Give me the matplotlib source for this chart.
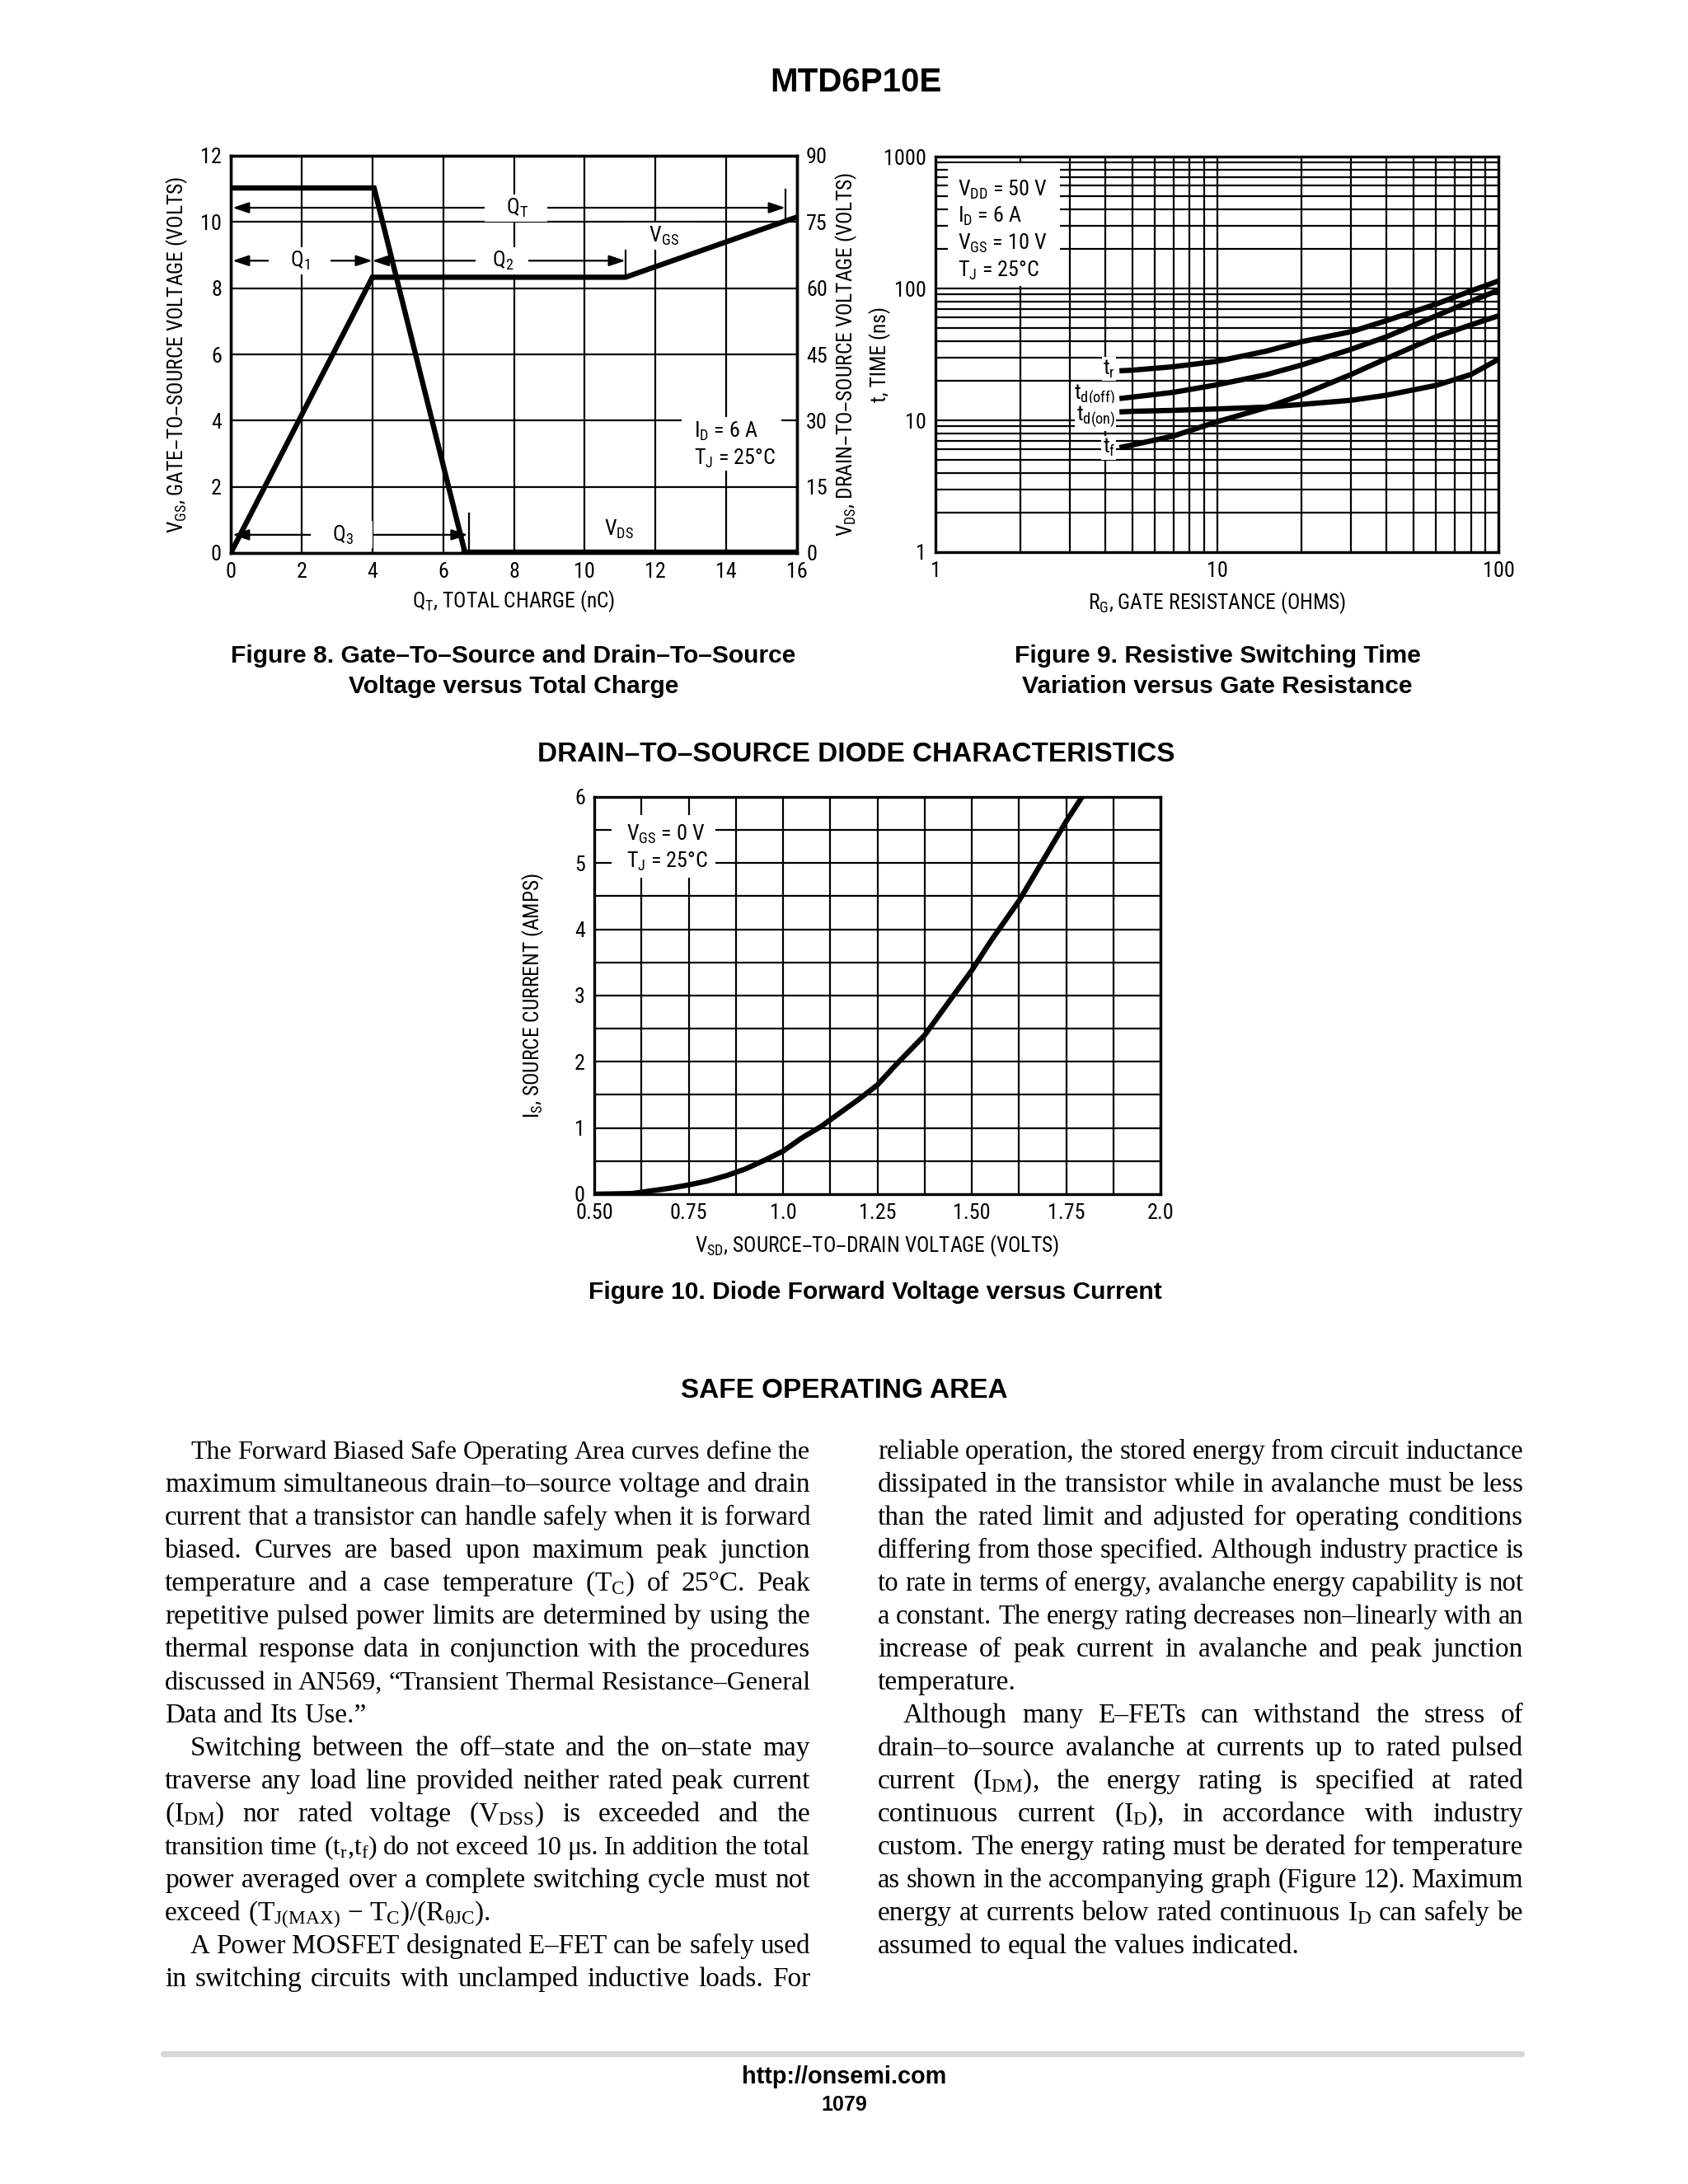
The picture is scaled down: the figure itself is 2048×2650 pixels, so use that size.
import matplotlib
matplotlib.use('Agg')
import matplotlib.pyplot as plt
from matplotlib import font_manager
from matplotlib.patches import Rectangle
from matplotlib.lines import Line2D
from matplotlib.ticker import NullFormatter, MultipleLocator

W, H, DPI = 2048, 2650, 200

# ---- Figure 8: gate charge ----
qt_vgs = [0, 4.0, 11.15, 16]
vgs = [0, 8.33, 8.33, 10.15]
qt_vds = [0, 4.05, 6.62, 16]
vds = [82.7, 82.7, 0, 0]

# ---- Figure 9: switching times vs gate resistance ----
rg = [4.6, 5, 7, 10, 15, 20, 30, 40, 60, 80, 100]
t_r = [23.8, 24.0, 25.5, 28.0, 33.5, 39.5, 47.0, 57.0, 76.0, 96.0, 114.0]
t_doff = [14.7, 15.0, 16.3, 18.6, 22.2, 26.3, 34.6, 43.0, 62.0, 80.0, 97.0]
t_don = [11.6, 11.7, 11.9, 12.2, 12.6, 13.2, 14.2, 15.5, 18.4, 22.3, 29.0]
t_f = [6.27, 6.5, 7.6, 9.75, 12.5, 15.6, 22.3, 29.4, 43.0, 53.0, 62.0]

# ---- Figure 10: diode forward characteristic ----
vsd = [0.50, 0.60, 0.65, 0.70, 0.75, 0.80, 0.85, 0.90, 0.95, 1.00, 1.05, 1.10,
       1.20, 1.25, 1.30, 1.375, 1.45, 1.50, 1.55, 1.625, 1.70, 1.75, 1.79]
i_s = [0.0, 0.01, 0.05, 0.09, 0.14, 0.20, 0.28, 0.38, 0.51, 0.65, 0.85, 1.02,
       1.43, 1.65, 1.96, 2.40, 2.99, 3.38, 3.82, 4.43, 5.15, 5.63, 5.98]

# ---- body text ----
LEFT_LINES = [
    ("The Forward Biased Safe Operating Area curves define the", 'i'),
    ("maximum simultaneous drain–to–source voltage and drain", 'j'),
    ("current that a transistor can handle safely when it is forward", 'j'),
    ("biased. Curves are based upon maximum peak junction", 'j'),
    ("temperature and a case temperature (T$_C$) of 25°C. Peak", 'j'),
    ("repetitive pulsed power limits are determined by using the", 'j'),
    ("thermal response data in conjunction with the procedures", 'j'),
    ("discussed in AN569, “Transient Thermal Resistance–General", 'j'),
    ("Data and Its Use.”", 'l'),
    ("Switching between the off–state and the on–state may", 'i'),
    ("traverse any load line provided neither rated peak current", 'j'),
    ("(I$_{DM}$) nor rated voltage (V$_{DSS}$) is exceeded and the", 'j'),
    ("transition time (t$_r$,t$_f$) do not exceed 10 μs. In addition the total", 'j'),
    ("power averaged over a complete switching cycle must not", 'j'),
    (r"exceed (T$_{J(MAX)}$ − T$_C$)/(R$_{{\theta}JC}$).", 'l'),
    ("A Power MOSFET designated E–FET can be safely used", 'i'),
    ("in switching circuits with unclamped inductive loads. For", 'j'),
]
RIGHT_LINES = [
    ("reliable operation, the stored energy from circuit inductance", 'j'),
    ("dissipated in the transistor while in avalanche must be less", 'j'),
    ("than the rated limit and adjusted for operating conditions", 'j'),
    ("differing from those specified. Although industry practice is", 'j'),
    ("to rate in terms of energy, avalanche energy capability is not", 'j'),
    ("a constant. The energy rating decreases non–linearly with an", 'j'),
    ("increase of peak current in avalanche and peak junction", 'j'),
    ("temperature.", 'l'),
    ("Although many E–FETs can withstand the stress of", 'i'),
    ("drain–to–source avalanche at currents up to rated pulsed", 'j'),
    ("current (I$_{DM}$), the energy rating is specified at rated", 'j'),
    ("continuous current (I$_D$), in accordance with industry", 'j'),
    ("custom. The energy rating must be derated for temperature", 'j'),
    ("as shown in the accompanying graph (Figure 12). Maximum", 'j'),
    ("energy at currents below rated continuous I$_D$ can safely be", 'j'),
    ("assumed to equal the values indicated.", 'l'),
]

avail = {f.name for f in font_manager.fontManager.ttflist}
CHART_FONT = 'Liberation Sans'
for cand in ('Liberation Sans Narrow', 'Roboto Condensed', 'Open Sans Condensed'):
    if cand in avail:
        CHART_FONT = cand
        break
NARROW = CHART_FONT != 'Liberation Sans'
TICK_FS = 9.4 if NARROW else 8.8      # tick labels
ANN_FS = 9.4 if NARROW else 8.4       # in-plot notes
LAB_FS = 9.2 if NARROW else 8.0       # axis titles
SERIF = 'Liberation Serif'
SANS = 'Liberation Sans'
BODY_FS = 12.0

plt.rcParams['font.family'] = [CHART_FONT, 'DejaVu Sans']
plt.rcParams['mathtext.default'] = 'regular'

fig = plt.figure(figsize=(W / DPI, H / DPI), dpi=DPI)
fig.patch.set_facecolor('white')


def rect(l, t, r, b):
    return [l / W, 1 - b / H, (r - l) / W, (b - t) / H]


def fx(px):
    return px / W


def fy(py):
    return 1 - py / H


def style(ax):
    for s in ax.spines.values():
        s.set_linewidth(1.2)
        s.set_color('k')
    ax.tick_params(which='both', length=0, labelsize=TICK_FS, pad=4)
    ax.set_axisbelow(True)


def blank(ax, x0, y0, x1, y1):
    # white patch that breaks the grid behind a note
    ax.add_patch(Rectangle((x0, y0), x1 - x0, y1 - y0, facecolor='white',
                           edgecolor='none', zorder=1))


WHITE = dict(facecolor='white', edgecolor='none', pad=1.0)
ARROW = dict(arrowstyle='<|-|>, head_length=0.6, head_width=0.2', color='k',
             lw=0.8, shrinkA=0, shrinkB=0, mutation_scale=10)

# ================= Figure 8 =================
ax8 = fig.add_axes(rect(280, 189, 967, 671))
style(ax8)
ax8.set_xlim(0, 16)
ax8.set_ylim(0, 12)
ax8.set_xticks(range(0, 17, 2))
ax8.set_yticks(range(0, 13, 2))
ax8.grid(True, color='k', lw=0.8)
ax8.plot(qt_vgs, vgs, color='k', lw=2.3, zorder=6, solid_joinstyle='miter')
ax8r = ax8.twinx()
style(ax8r)
ax8r.set_ylim(0, 90)
ax8r.set_yticks(range(0, 91, 15))
ax8r.plot(qt_vds, vds, color='k', lw=2.3, zorder=6, solid_joinstyle='miter')
ax8r.plot(qt_vds[2:], vds[2:], color='k', lw=3.4, zorder=6)

ax8.annotate('', xy=(0.05, 10.43), xytext=(15.67, 10.43), arrowprops=ARROW)
ax8.annotate('', xy=(0.05, 8.83), xytext=(4.0, 8.83), arrowprops=ARROW)
ax8.annotate('', xy=(4.0, 8.83), xytext=(11.15, 8.83), arrowprops=ARROW)
ax8.annotate('', xy=(0.05, 0.55), xytext=(6.7, 0.55), arrowprops=ARROW)
for xv, y0, y1 in [(15.67, 10.08, 10.97), (4.0, 8.33, 9.43), (11.15, 8.33, 9.14), (6.73, 0.0, 1.19)]:
    ax8.plot([xv, xv], [y0, y1], color='k', lw=0.8, zorder=3)
lab8 = dict(fontsize=ANN_FS, ha='center', va='center', bbox=WHITE, zorder=5)
ax8.text(8.05, 10.43, '    Q$_T$    ', **lab8)
ax8.text(1.95, 8.83, '    Q$_1$    ', **lab8)
ax8.text(7.66, 8.83, '   Q$_2$   ', **lab8)
ax8.text(3.13, 0.55, '    Q$_3$    ', **lab8)
ax8.text(12.2, 9.57, '    V$_{GS}$    ', **lab8)
ax8.text(10.98, 0.72, 'V$_{DS}$', **lab8)
blank(ax8, 12.75, 2.5, 15.55, 4.1)
ax8.text(13.1, 3.67, 'I$_D$ = 6 A', fontsize=ANN_FS, ha='left', va='center', zorder=5)
ax8.text(13.1, 2.86, 'T$_J$ = 25°C', fontsize=ANN_FS, ha='left', va='center', zorder=5)

ax8.set_xlabel('Q$_T$, TOTAL CHARGE (nC)', fontsize=LAB_FS, va='center')
ax8.xaxis.set_label_coords(0.5, -0.122)
ax8.set_ylabel('V$_{GS}$, GATE–TO–SOURCE VOLTAGE (VOLTS)', fontsize=LAB_FS, va='center')
ax8.yaxis.set_label_coords(-0.096, 0.5)
ax8r.set_ylabel('V$_{DS}$, DRAIN–TO–SOURCE VOLTAGE (VOLTS)', fontsize=LAB_FS, va='center')
ax8r.yaxis.set_label_coords(1.086, 0.5)

# ================= Figure 9 =================
ax9 = fig.add_axes(rect(1135, 190, 1818, 670))
style(ax9)
ax9.set_xscale('log')
ax9.set_yscale('log')
ax9.set_xlim(1, 100)
ax9.set_ylim(1, 1000)
ax9.set_xticks([1, 10, 100], labels=['1', '10', '100'])
ax9.set_yticks([1, 10, 100, 1000], labels=['1', '10', '100', '1000'])
ax9.xaxis.set_minor_formatter(NullFormatter())
ax9.yaxis.set_minor_formatter(NullFormatter())
ax9.grid(True, which='both', color='k', lw=0.8)
for series in (t_r, t_doff, t_don, t_f):
    ax9.plot(rg, series, color='k', lw=2.3, zorder=4)
blank(ax9, 1.11, 105, 2.77, 890)
for yv, s in [(560, 'V$_{DD}$ = 50 V'), (351, 'I$_D$ = 6 A'),
              (219, 'V$_{GS}$ = 10 V'), (137, 'T$_J$ = 25°C')]:
    ax9.text(1.2, yv, s, fontsize=ANN_FS, ha='left', va='center', zorder=5)
lab9 = dict(fontsize=ANN_FS, ha='right', va='center',
            bbox=dict(facecolor='white', edgecolor='none', pad=0.5), zorder=5)
ax9.text(4.35, 24.5, 't$_r$', **lab9)
ax9.text(4.35, 15.5, 't$_{d(off)}$', **lab9)
ax9.text(4.35, 10.6, 't$_{d(on)}$', **lab9)
ax9.text(4.35, 6.2, 't$_f$', **lab9)
ax9.set_xlabel('R$_G$, GATE RESISTANCE (OHMS)', fontsize=LAB_FS, va='center')
ax9.xaxis.set_label_coords(0.5, -0.129)
ax9.set_ylabel('t, TIME (ns)', fontsize=LAB_FS, va='center')
ax9.yaxis.set_label_coords(-0.098, 0.5)

# ================= Figure 10 =================
ax10 = fig.add_axes(rect(721, 967, 1408, 1449))
style(ax10)
ax10.set_xlim(0.5, 2.0)
ax10.set_ylim(0, 6)
ax10.set_xticks([0.5, 0.75, 1.0, 1.25, 1.5, 1.75, 2.0],
                labels=['0.50', '0.75', '1.0', '1.25', '1.50', '1.75', '2.0'])
ax10.xaxis.set_minor_locator(MultipleLocator(0.125))
ax10.set_yticks(range(0, 7))
ax10.yaxis.set_minor_locator(MultipleLocator(0.5))
ax10.grid(True, which='both', color='k', lw=0.8)
ax10.plot(vsd, i_s, color='k', lw=2.3, zorder=4)
blank(ax10, 0.545, 4.78, 0.82, 5.72)
ax10.text(0.585, 5.44, 'V$_{GS}$ = 0 V', fontsize=ANN_FS, ha='left', va='center', zorder=5)
ax10.text(0.585, 5.02, 'T$_J$ = 25°C', fontsize=ANN_FS, ha='left', va='center', zorder=5)
ax10.set_xlabel('V$_{SD}$, SOURCE–TO–DRAIN VOLTAGE (VOLTS)', fontsize=LAB_FS, va='center')
ax10.xaxis.set_label_coords(0.5, -0.129)
ax10.set_ylabel('I$_S$, SOURCE CURRENT (AMPS)', fontsize=LAB_FS, va='center')
ax10.yaxis.set_label_coords(-0.108, 0.5)

# ================= page text =================
bold = dict(family=SANS, weight='bold', ha='center', va='center', color='k')
fig.text(fx(1038), fy(100), 'MTD6P10E', fontsize=14.5, **bold)
fig.text(fx(623), fy(796), 'Figure 8. Gate–To–Source and Drain–To–Source', fontsize=10.8, **bold)
fig.text(fx(623), fy(833), 'Voltage versus Total Charge', fontsize=10.8, **bold)
fig.text(fx(1477), fy(796), 'Figure 9. Resistive Switching Time', fontsize=10.8, **bold)
fig.text(fx(1477), fy(833), 'Variation versus Gate Resistance', fontsize=10.8, **bold)
fig.text(fx(1039), fy(915), 'DRAIN–TO–SOURCE DIODE CHARACTERISTICS', fontsize=12, **bold)
fig.text(fx(1062), fy(1568), 'Figure 10. Diode Forward Voltage versus Current', fontsize=10.8, **bold)
fig.text(fx(1024), fy(1687), 'SAFE OPERATING AREA', fontsize=12, **bold)

renderer = fig.canvas.get_renderer()
INDENT = 31


def space_px(fs):
    return fs * DPI / 72 * 0.25


def text_line(line, x0, x1, y, kind):
    words = line.split(' ')
    if kind == 'i':
        x0 += INDENT
    objs = [fig.text(0, fy(y), w, family=[SERIF, 'DejaVu Serif'], fontsize=BODY_FS,
                     va='baseline', ha='left', color='k') for w in words]
    widths = [o.get_window_extent(renderer).width for o in objs]
    fs = BODY_FS
    if kind != 'l' and len(words) > 1:
        need = sum(widths) + (len(words) - 1) * 0.9 * space_px(BODY_FS)
        if need > x1 - x0:
            # tight line: set it a little smaller so the words keep a gap
            fs = BODY_FS * (x1 - x0) / need
            for o in objs:
                o.set_fontsize(fs)
            widths = [o.get_window_extent(renderer).width for o in objs]
        gap = (x1 - x0 - sum(widths)) / (len(words) - 1)
    else:
        gap = space_px(fs)
    x = x0
    for o, wd in zip(objs, widths):
        o.set_x(fx(x))
        x += wd + gap


BASE0, LEAD = 1770, 40.0
for i, (line, kind) in enumerate(LEFT_LINES):
    text_line(line, 200, 983, BASE0 + i * LEAD, kind)
for i, (line, kind) in enumerate(RIGHT_LINES):
    text_line(line, 1065, 1848, BASE0 + i * LEAD, kind)

fig.add_artist(Line2D([fx(198), fx(1846)], [fy(2492), fy(2492)], lw=2.6,
                      color='#d6d6d6', solid_capstyle='round'))
fig.text(fx(1024), fy(2520), 'http://onsemi.com', fontsize=10.4, **bold)
fig.text(fx(1024), fy(2554), '1079', fontsize=9.0, **bold)

fig.savefig('out.png', dpi=DPI, facecolor='white')
